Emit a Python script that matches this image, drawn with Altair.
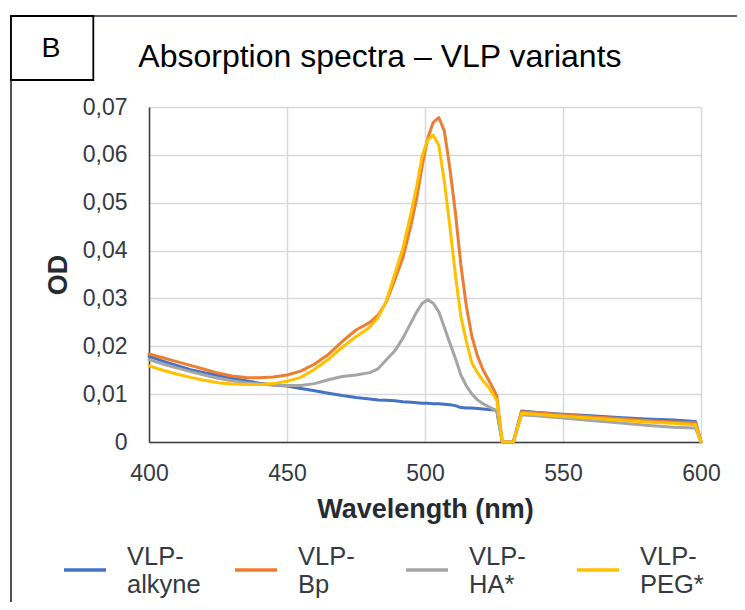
import altair as alt
import pandas as pd

# ---- data ----
wavelengths = [400, 405, 410, 415, 420, 425, 430, 435, 440, 445, 450, 455, 460, 465, 470, 475, 480,
               483, 486, 489, 492, 495, 497, 499, 501, 503, 505, 507, 509, 511, 513, 515, 517, 519,
               521, 523, 525, 526, 528, 532, 535, 540, 550, 560, 570, 580, 590, 598, 600]

vlp_alkyne = [0.0179, 0.0169, 0.0160, 0.0151, 0.0145, 0.0139, 0.0133, 0.0128, 0.0123, 0.0119, 0.0117,
              0.0112, 0.0107, 0.0102, 0.0097, 0.0093, 0.0090, 0.0088, 0.0087, 0.0086, 0.0084, 0.0083,
              0.0082, 0.0081, 0.0081, 0.0080, 0.0080, 0.0079, 0.0078, 0.0076, 0.0072, 0.0071, 0.0071,
              0.0070, 0.0069, 0.0068, 0.0067, 0.0066, 0.0, 0.0, 0.0065, 0.0062, 0.0058, 0.0055, 0.0051,
              0.0048, 0.0046, 0.0043, 0.0]

vlp_bp = [0.0184, 0.0176, 0.0168, 0.0160, 0.0152, 0.0144, 0.0138, 0.0135, 0.0134, 0.0136, 0.0140,
          0.0148, 0.0163, 0.0183, 0.0210, 0.0234, 0.0250, 0.0265, 0.0293, 0.0338, 0.0385, 0.0455,
          0.0510, 0.0578, 0.0635, 0.0668, 0.0678, 0.0650, 0.0572, 0.0480, 0.0370, 0.0283, 0.0220,
          0.0180, 0.0151, 0.0130, 0.0108, 0.0097, 0.0, 0.0, 0.0063, 0.0061, 0.0057, 0.0053, 0.0049,
          0.0045, 0.0042, 0.0040, 0.0]

vlp_ha = [0.0172, 0.0163, 0.0155, 0.0147, 0.0140, 0.0133, 0.0128, 0.0124, 0.0121, 0.0119, 0.0118,
          0.0118, 0.0122, 0.0130, 0.0137, 0.0140, 0.0145, 0.0153, 0.0172, 0.0190, 0.0217, 0.0250,
          0.0272, 0.0290, 0.0297, 0.0290, 0.0272, 0.0240, 0.0207, 0.0175, 0.0140, 0.0117, 0.0100,
          0.0088, 0.0080, 0.0074, 0.0068, 0.0066, 0.0, 0.0, 0.0057, 0.0055, 0.0050, 0.0045, 0.0040,
          0.0035, 0.0031, 0.0029, 0.0]

vlp_peg = [0.0159, 0.0150, 0.0142, 0.0135, 0.0129, 0.0124, 0.0121, 0.0120, 0.0120, 0.0122, 0.0127,
           0.0135, 0.0152, 0.0173, 0.0198, 0.0220, 0.0240, 0.0260, 0.0295, 0.0350, 0.0405, 0.0480,
           0.0535, 0.0598, 0.0632, 0.0641, 0.0620, 0.0545, 0.0450, 0.0350, 0.0262, 0.0210, 0.0165,
           0.0145, 0.0128, 0.0115, 0.0096, 0.0088, 0.0, 0.0, 0.0060, 0.0058, 0.0054, 0.0050, 0.0046,
           0.0042, 0.0039, 0.0036, 0.0]

series_names = ["VLP-alkyne", "VLP-Bp", "VLP-HA*", "VLP-PEG*"]
series_colors = ["#4472C4", "#ED7D31", "#A5A5A5", "#FFC000"]
x_ticks = [400, 450, 500, 550, 600]
y_ticks = [0, 0.01, 0.02, 0.03, 0.04, 0.05, 0.06, 0.07]
chart_title = "Absorption spectra – VLP variants"
panel_letter = "B"

rows = []
for name, vals in zip(series_names, [vlp_alkyne, vlp_bp, vlp_ha, vlp_peg]):
    for w, v in zip(wavelengths, vals):
        rows.append({"wavelength": w, "od": v, "series": name})
df = pd.DataFrame(rows)

FONT = "Liberation Sans"

x_enc = alt.X("wavelength:Q",
              scale=alt.Scale(domain=[400, 600], nice=False, zero=False),
              axis=alt.Axis(values=x_ticks, title="Wavelength (nm)", labelPadding=20,
                            labelFlush=False, titlePadding=11, format="d"))
y_enc = alt.Y("od:Q",
              scale=alt.Scale(domain=[0, 0.07], nice=False),
              axis=alt.Axis(values=y_ticks, title="OD", labelPadding=22, titlePadding=10,
                            labelFlush=False,
                            labelExpr="datum.value == 0 ? '0' : replace(format(datum.value, '.2f'), '.', ',')"))
color_enc = alt.Color("series:N",
                      scale=alt.Scale(domain=series_names, range=series_colors),
                      legend=alt.Legend(title=None, orient="none", legendX=-87, legendY=440,
                                        direction="horizontal", columns=4,
                                        symbolType="stroke", symbolSize=1764, symbolStrokeWidth=3.5,
                                        labelFont=FONT, labelFontSize=25.5, labelColor="#333a44",
                                        labelBaseline="bottom",
                                        labelOffset=19, columnPadding=27, gridAlign="all",
                                        labelLimit=300,
                                        labelExpr="['VLP-', substring(datum.label, 4)]"))

line_layers = []
for name in series_names:
    line_layers.append(
        alt.Chart(df).transform_filter(alt.datum.series == name)
        .mark_line(strokeWidth=3, strokeJoin="round", strokeCap="round")
        .encode(x=x_enc, y=y_enc, color=color_enc)
    )

dummy = alt.Data(values=[{"k": 1}])
frame_top = alt.Chart(dummy).mark_rule(color="#2e3238", strokeWidth=1.7).encode(
    x=alt.value(-138), x2=alt.value(600), y=alt.value(-91))
frame_left = alt.Chart(dummy).mark_rule(color="#2e3238", strokeWidth=1.7).encode(
    x=alt.value(-138), y=alt.value(-91), y2=alt.value(520))
letter_box = alt.Chart(dummy).mark_rect(fill="white", stroke="black", strokeWidth=1.8).encode(
    x=alt.value(-138), x2=alt.value(-55.7), y=alt.value(-91), y2=alt.value(-27))
letter = alt.Chart(dummy).mark_text(text=panel_letter, font=FONT, fontSize=28.5, color="black",
                                    align="center", baseline="alphabetic").encode(
    x=alt.value(-98), y=alt.value(-49.7))
title_text = alt.Chart(dummy).mark_text(text=chart_title, font=FONT, fontSize=32, color="black",
                                        align="left", baseline="alphabetic").encode(
    x=alt.value(-10.7), y=alt.value(-40.3))

# svg is kept within 729 x 594 so that the page (8px margins) does not overflow 745 x 610
chart = alt.layer(frame_top, frame_left, letter_box, letter, title_text, *line_layers).properties(
    width=552, height=335,
    autosize=alt.AutoSizeParams(type="none"),
    padding={"left": 141, "top": 99, "right": 36, "bottom": 160},
    background="white",
).configure_view(strokeWidth=0).configure_axis(
    grid=True, gridColor="#d9d9d9", gridWidth=1.5,
    domainColor="#3a3f47", domainWidth=1.5,
    ticks=False, tickSize=0,
    labelFont=FONT, labelFontSize=23, labelColor="#333a44",
    titleFont=FONT, titleFontSize=27, titleFontWeight="bold", titleColor="#262b33",
)

chart.save("out.html", embed_options={"renderer": "svg", "actions": False})
